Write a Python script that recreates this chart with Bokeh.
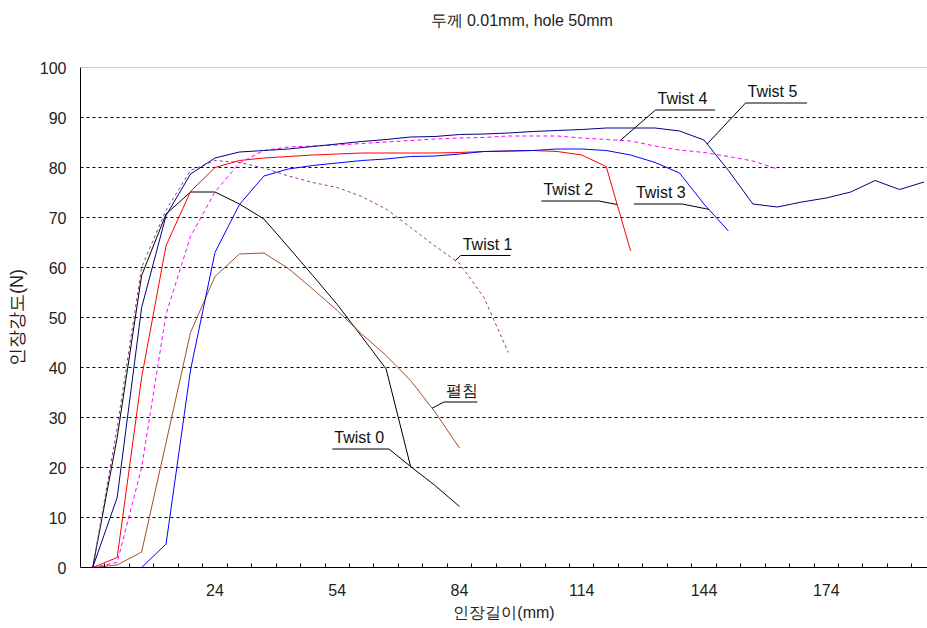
import numpy as np
from bokeh.plotting import figure
from bokeh.models import FixedTicker, Span, Label, Range1d, Title
from bokeh.embed import file_html
from bokeh.resources import INLINE

# ---- data ----
elongation_mm = [-6, 0, 6, 12, 18, 24, 30, 36, 42, 48, 54, 60, 66, 72, 78, 84, 90, 96,
                 102, 108, 114, 120, 126, 132, 138, 144, 150, 156, 162, 168, 174, 180,
                 186, 192, 198]
x_tick_labels = [24, 54, 84, 114, 144, 174]
y_ticks = [0, 10, 20, 30, 40, 50, 60, 70, 80, 90, 100]
grid_levels = [10, 20, 30, 40, 50, 60, 70, 80, 90]

twist0 = [0, 26, 58.4, 70.7, 75.1, 75.1, 72.7, 69.7, 64.1, 58.4, 52.6, 46.2, 39.7, 20.2,
          16.4, 12.2]
flat = [0, 0.5, 3.1, 25, 47, 58.2, 62.7, 62.9, 59.8, 55.7, 51.4, 46.7, 42.4, 37.4, 31.1, 23.9]
twist1 = [0, 28, 60, 71.5, 79.4, 81.4, 81, 79.9, 78.3, 77, 76, 74.2, 71.7, 68, 64.3, 60.8,
          54, 43]
twist2 = [0, 2, 38, 64.4, 75.2, 80, 81.4, 81.9, 82.2, 82.5, 82.7, 82.9, 82.9, 82.9, 82.9,
          83, 83.2, 83.3, 83.4, 83.2, 82.5, 80.2, 63.3]
twist3 = [0, 0, 0, 4.7, 39.5, 63, 72.6, 78.3, 79.7, 80.4, 80.9, 81.4, 81.7, 82.2, 82.3,
          82.7, 83.2, 83.3, 83.4, 83.7, 83.7, 83.4, 82.5, 81, 78.9, 72.7, 67.3]
twist4 = [0, 1, 20, 50.7, 66.2, 75.1, 80.9, 83.4, 84.1, 84.3, 84.5, 84.8, 85.1, 85.4, 85.7,
          85.9, 86, 86.3, 86.3, 86.3, 85.9, 85.6, 85.3, 84.3, 83.5, 83, 82.2, 81.3, 79.7]
twist5 = [0, 14, 52, 70.4, 78.7, 81.9, 83.1, 83.4, 83.7, 84.2, 84.7, 85.2, 85.6, 86.1, 86.2,
          86.6, 86.7, 86.9, 87.2, 87.4, 87.6, 87.9, 87.9, 87.9, 87.3, 85.5, 79.4, 72.7, 72.1,
          73.1, 73.9, 75.1, 77.4, 75.6, 77.1]

series = [
    ("Twist 0", twist0, "#000000", "solid"),
    ("펼침", flat, "#A0522D", "solid"),
    ("Twist 1", twist1, "#993399", "3 3"),
    ("Twist 2", twist2, "#FF0000", "solid"),
    ("Twist 3", twist3, "#0000FF", "solid"),
    ("Twist 4", twist4, "#FF00FF", "4 3"),
    ("Twist 5", twist5, "#000080", "solid"),
]

# annotation callouts: name, underline x0, x1, y, leader side, anchor (fractional index)
callouts = [
    ("Twist 0", 52.8, 66.7, 23.7, "right", 13.0),
    ("펼침", 80.2, 88.4, 33.1, "left", 13.88),
    ("Twist 1", 84.3, 96.5, 62.4, "left", 14.83),
    ("Twist 2", 104.1, 118.2, 73.3, "right", 21.45),
    ("Twist 3", 126.8, 138.7, 72.7, "right", 25.2),
    ("Twist 4", 132.1, 146.7, 91.5, "left", 21.58),
    ("Twist 5", 154.2, 169.3, 92.9, "left", 25.13),
]

title_text = "두께 0.01mm, hole 50mm"
x_label = "인장길이(mm)"
y_label = "인장강도(N)"

FONT = "Liberation Sans"

p = figure(width=927, height=628, x_range=Range1d(-9, 198.85), y_range=Range1d(0, 100),
           output_backend="svg", toolbar_location=None,
           min_border_left=80, min_border_right=0, min_border_top=67, min_border_bottom=61)
p.outline_line_color = None
p.background_fill_color = "white"
p.border_fill_color = "white"

# title (blank lines below it lift it away from the frame)
p.add_layout(Title(text=title_text + "\n \n ", align="left", offset=350, text_font=FONT,
                   text_font_size="16px", text_font_style="normal", text_line_height=1.0,
                   text_color="#222222"), "above")

# grid
p.xgrid.visible = False
p.ygrid.ticker = FixedTicker(ticks=grid_levels)
p.ygrid.grid_line_color = "#000000"
p.ygrid.grid_line_dash = "3 3"
p.ygrid.grid_line_width = 1

# top border line at 100
p.add_layout(Span(location=100, dimension="width", line_color="#9a9a9a", line_width=1))

# x axis
bounds = [(a + b) / 2 for a, b in zip(elongation_mm[:-1], elongation_mm[1:])]
p.xaxis.ticker = FixedTicker(ticks=x_tick_labels, minor_ticks=bounds)
p.xaxis.major_tick_in = 0
p.xaxis.major_tick_out = 0
p.xaxis.minor_tick_in = 4
p.xaxis.minor_tick_out = 0
p.xaxis.minor_tick_line_color = "#000000"
p.xaxis.axis_line_color = "#000000"
p.xaxis.major_label_standoff = 16
p.xaxis.major_label_text_font = FONT
p.xaxis.major_label_text_font_size = "16px"
p.xaxis.major_label_text_color = "#222222"
p.xaxis.axis_label = x_label
p.xaxis.axis_label_text_font = FONT
p.xaxis.axis_label_text_font_size = "16px"
p.xaxis.axis_label_text_font_style = "normal"
p.xaxis.axis_label_text_color = "#222222"
p.xaxis.axis_label_standoff = 5

# y axis
p.yaxis.ticker = FixedTicker(ticks=y_ticks)
p.yaxis.major_tick_in = 0
p.yaxis.major_tick_out = 0
p.yaxis.minor_tick_in = 0
p.yaxis.minor_tick_out = 0
p.yaxis.axis_line_color = "#000000"
p.yaxis.major_label_standoff = 14
p.yaxis.major_label_text_font = FONT
p.yaxis.major_label_text_font_size = "16px"
p.yaxis.major_label_text_color = "#222222"
p.yaxis.axis_label = y_label
p.yaxis.axis_label_text_font = FONT
p.yaxis.axis_label_text_font_size = "18px"
p.yaxis.axis_label_text_font_style = "normal"
p.yaxis.axis_label_text_color = "#222222"
p.yaxis.axis_label_standoff = 10

# series lines
for name, vals, color, dash in series:
    xs = elongation_mm[:len(vals)]
    p.line(xs, vals, line_color=color, line_width=1, line_dash=dash)

# callouts
lookup = {name: vals for name, vals, _, _ in series}
for name, x0, x1, y, side, frac in callouts:
    vals = lookup[name]
    idx = np.arange(len(vals))
    ax = float(np.interp(frac, idx, elongation_mm[:len(vals)]))
    ay = float(np.interp(frac, idx, vals))
    p.line([x0, x1], [y, y], line_color="#000000", line_width=1)
    sx = x1 if side == "right" else x0
    p.line([sx, ax], [y, ay], line_color="#000000", line_width=1)
    p.add_layout(Label(x=x0, y=y, x_offset=2, y_offset=3, text=name,
                       text_font=FONT, text_font_size="16px", text_color="#111111",
                       text_baseline="bottom", text_align="left"))

open("out.html", "w").write(file_html(p, INLINE))
